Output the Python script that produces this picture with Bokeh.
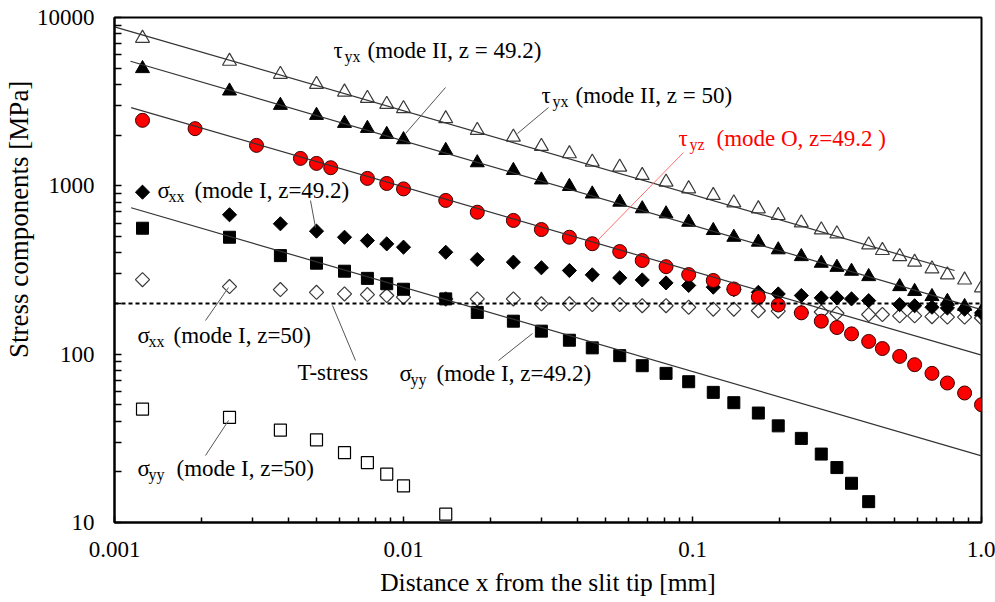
import numpy as np
from bokeh.plotting import figure
from bokeh.models import FixedTicker, Label, Arrow, Span, Title
from bokeh.embed import file_html
from bokeh.resources import INLINE

# ---------------- data ----------------
# tau_yx, mode II, z = 50 (open triangles)
X_TAU_Z50 = [0.00125, 0.0025, 0.00375, 0.005, 0.00625, 0.0075, 0.00875, 0.01,
             0.014, 0.018, 0.024, 0.03, 0.0375, 0.045, 0.056, 0.067, 0.081, 0.097,
             0.118, 0.139, 0.169, 0.198, 0.238, 0.279, 0.316,
             0.407, 0.454, 0.521, 0.587, 0.674, 0.762, 0.874, 1.0]
Y_TAU_Z50 = [7530, 5500, 4600, 4010, 3610, 3310, 3050, 2875,
             2506, 2136, 1948, 1716, 1552, 1384, 1292, 1153, 1052, 961,
             877, 793, 731, 667, 603, 548, 519,
             446, 413, 380, 352, 321, 296, 276, 248]

# tau_yx, mode II, z = 49.2 (filled triangles)
X_TAU_Z492 = [0.00125, 0.0025, 0.00375, 0.005, 0.00625, 0.0075, 0.00875, 0.01,
              0.014, 0.018, 0.024, 0.03, 0.0375, 0.045, 0.056, 0.067, 0.081, 0.097,
              0.118, 0.139, 0.169, 0.198, 0.238, 0.279, 0.316, 0.355, 0.407,
              0.521, 0.587, 0.674, 0.762, 0.874, 1.0]
Y_TAU_Z492 = [4973, 3660, 3008, 2623, 2351, 2195, 2022, 1880,
              1624, 1372, 1235, 1084, 992, 895, 800, 731, 682, 608,
              543, 495, 463, 417, 380, 347, 328, 311, 289,
              252, 236, 220, 206, 192, 179]

# tau_yz, mode O, z = 49.2 (red circles)
X_TAUYZ = [0.00125, 0.0019, 0.0031, 0.0044, 0.005, 0.0056, 0.0075, 0.00875, 0.01,
           0.014, 0.018, 0.024, 0.03, 0.0375, 0.045, 0.056, 0.067, 0.081, 0.097,
           0.118, 0.139, 0.169, 0.198, 0.238, 0.279, 0.316, 0.355, 0.407,
           0.454, 0.521, 0.587, 0.674, 0.762, 0.874, 1.0]
Y_TAUYZ = [2449, 2186, 1739, 1455, 1359, 1281, 1107, 1033, 959,
           819, 697, 623, 550, 495, 453, 407, 360, 331, 297,
           274, 244, 218, 196, 176, 157, 144, 132, 119,
           108, 97, 86.6, 76.9, 67.4, 58.8, 50.1]

# sigma_xx, mode I, z = 49.2 (filled diamonds)
X_SXX_Z492 = [0.00125, 0.0025, 0.00375, 0.005, 0.00625, 0.0075, 0.00875, 0.01,
              0.014, 0.018, 0.024, 0.03, 0.0375, 0.045, 0.056, 0.067, 0.081, 0.097,
              0.118, 0.139, 0.169, 0.198, 0.238, 0.279, 0.316, 0.355, 0.407,
              0.521, 0.587, 0.674, 0.762, 0.874, 1.0]
Y_SXX_Z492 = [917, 673, 595, 538, 495, 473, 452, 432,
              403, 365, 352, 326, 314, 296, 284, 276, 265, 256,
              250, 242, 233, 228, 223, 216, 216, 213, 208,
              197, 194, 190, 188, 185, 176]

# sigma_xx, mode I, z = 50 (open diamonds)
X_SXX_Z50 = [0.00125, 0.0025, 0.00375, 0.005, 0.00625, 0.0075, 0.00875, 0.01,
             0.014, 0.018, 0.024, 0.03, 0.0375, 0.045, 0.056, 0.067, 0.081, 0.097,
             0.118, 0.139, 0.169, 0.198, 0.238, 0.279, 0.316,
             0.407, 0.454, 0.521, 0.587, 0.674, 0.762, 0.874, 1.0]
Y_SXX_Z50 = [277, 252, 242, 233, 228, 226, 223, 218,
             213, 213, 213, 199, 199, 197, 197, 194, 194, 190,
             185, 185, 181, 180, 177, 178, 175,
             172, 172, 169, 169, 167, 166, 166, 164]

# sigma_yy, mode I, z = 49.2 (filled squares)
X_SYY_Z492 = [0.00125, 0.0025, 0.00375, 0.005, 0.00625, 0.0075, 0.00875, 0.01,
              0.014, 0.018, 0.024, 0.03, 0.0375, 0.045, 0.056, 0.067, 0.081, 0.097,
              0.118, 0.139, 0.169, 0.198, 0.238, 0.279, 0.316, 0.355, 0.407]
Y_SYY_Z492 = [560, 495, 385, 347, 311, 282, 262, 243,
              213, 177, 157, 137, 121, 109, 98, 85.4, 76.9, 68.6,
              59.3, 51.5, 44.7, 37.5, 31.6, 25.5, 21.2, 17.1, 13.3]

# sigma_yy, mode I, z = 50 (open squares)
X_SYY_Z50 = [0.00125, 0.0025, 0.00375, 0.005, 0.00625, 0.0075, 0.00875, 0.01, 0.014]
Y_SYY_Z50 = [47.2, 42.1, 35.4, 31.0, 26.0, 22.7, 19.4, 16.5, 11.2]

# fitted K/sqrt(x) lines (end points)
FIT_X0 = [0.001, 0.001136, 0.001142, 0.001142]
FIT_Y0 = [8790, 5496, 2914, 741]
FIT_X1 = [0.807, 1.0, 1.0, 1.0]
FIT_Y1 = [314, 184, 98.6, 24.9]

T_STRESS = 200.0

X_RANGE = (0.001, 1.0)
Y_RANGE = (10, 10000)
X_TICKS = [0.001, 0.01, 0.1, 1.0]
X_TICK_LABELS = ["0.001", "0.01", "0.1", "1.0"]
Y_TICKS = [10, 100, 1000, 10000]
Y_TICK_LABELS = ["10", "100", "1000", "10000"]

X_TITLE = "Distance x from the slit tip [mm]"
Y_TITLE = "Stress components [MPa]"

# ---------------- figure ----------------
FONT = "Liberation Serif"
FRAME_L, FRAME_B = 114, 522

p = figure(width=995, height=602, x_axis_type="log", y_axis_type="log",
           x_range=X_RANGE, y_range=Y_RANGE, output_backend="svg",
           toolbar_location=None, min_border_left=FRAME_L, min_border_right=14,
           min_border_top=17, min_border_bottom=602 - FRAME_B)
p.xgrid.visible = False
p.ygrid.visible = False
p.outline_line_color = "black"
p.outline_line_width = 2
p.outline_line_alpha = 1.0
p.background_fill_color = "white"
p.border_fill_color = "white"

def minor(ticks):
    out = []
    for a, b in zip(ticks[:-1], ticks[1:]):
        out += [a * k for k in range(2, 10)]
    return out

p.xaxis.ticker = FixedTicker(ticks=X_TICKS, minor_ticks=minor(X_TICKS))
p.yaxis.ticker = FixedTicker(ticks=Y_TICKS, minor_ticks=minor(Y_TICKS))
p.xaxis.major_label_overrides = {t: l for t, l in zip(X_TICKS, X_TICK_LABELS)}
p.yaxis.major_label_overrides = {t: l for t, l in zip(Y_TICKS, Y_TICK_LABELS)}

for ax in (p.xaxis, p.yaxis):
    ax.axis_line_color = "black"
    ax.axis_line_width = 2
    ax.major_tick_out = 0
    ax.minor_tick_out = 0
    ax.major_tick_line_color = "black"
    ax.minor_tick_line_color = "black"
    ax.major_tick_line_width = 1.5
    ax.minor_tick_line_width = 1.5
    ax.major_label_text_font = FONT
    ax.major_label_text_font_size = "23px"
    ax.major_label_text_color = "black"
    ax.axis_label_text_font = FONT
    ax.axis_label_text_font_size = "25.5px"
    ax.axis_label_text_font_style = "normal"
    ax.axis_label_text_color = "black"

p.xaxis.major_tick_in = 6
p.xaxis.minor_tick_in = 5
p.yaxis.major_tick_in = 7
p.yaxis.minor_tick_in = 7
p.xaxis.major_label_standoff = 19
p.yaxis.major_label_standoff = 20
p.xaxis.axis_label = X_TITLE
p.xaxis.axis_label_standoff = 8

# y-axis title as a side title; the title sits above the frame centre in the
# reference, so it is padded at its start with no-break spaces
p.add_layout(Title(text="\u00a0" * 15 + Y_TITLE, align="center",
                   text_font=FONT, text_font_size="27px",
                   text_font_style="normal", text_color="black",
                   standoff=0), "left")

# ---------------- markers ----------------
GRAY = "#3a3a3a"
p.scatter(X_SXX_Z50, Y_SXX_Z50, marker="square", angle=np.pi / 4, size=10,
          fill_color=None, line_color=GRAY, line_width=1.2)
p.scatter(X_SXX_Z492, Y_SXX_Z492, marker="square", angle=np.pi / 4, size=10,
          fill_color="black", line_color="black")
p.scatter(X_TAU_Z50, Y_TAU_Z50, marker="triangle", size=14,
          fill_color=None, line_color=GRAY, line_width=1.2)
p.scatter(X_TAU_Z492, Y_TAU_Z492, marker="triangle", size=14,
          fill_color="black", line_color="black")
p.scatter(X_SYY_Z50, Y_SYY_Z50, marker="square", size=12,
          fill_color=None, line_color="black", line_width=1.2)
p.scatter(X_SYY_Z492, Y_SYY_Z492, marker="square", size=12,
          fill_color="black", line_color="black")
p.scatter(X_TAUYZ, Y_TAUYZ, marker="circle", size=14,
          fill_color="#ff0000", line_color="#3a0000", line_width=1)

# fitted lines and T-stress line
p.segment(FIT_X0, FIT_Y0, FIT_X1, FIT_Y1, line_color="#333333", line_width=1.2)
p.add_layout(Span(location=T_STRESS, dimension="width", line_color="black",
                  line_width=2, line_dash="4 3"))

# ---------------- annotations ----------------
def txt(px, py, s, size=23, color="black", align="left", angle=0.0):
    p.add_layout(Label(x=px - FRAME_L, y=FRAME_B - py, x_units="screen",
                       y_units="screen", text=s, text_font=FONT,
                       text_font_size=f"{size}px", text_color=color,
                       text_align=align, text_baseline="middle", angle=angle))

def lead(x0, y0, x1, y1, color="#555555"):
    p.add_layout(Arrow(end=None, x_start=x0 - FRAME_L, y_start=FRAME_B - y0,
                       x_end=x1 - FRAME_L, y_end=FRAME_B - y1,
                       start_units="screen", end_units="screen",
                       line_color=color, line_width=1))

RED = "#ff0000"
SUB = 16

def sym(px, py, greek, sub, rest, rest_x, color="black"):
    txt(px, py, greek, color=color)
    txt(px + 11, py + 6, sub, SUB, color=color)
    txt(rest_x, py, rest, color=color)

sym(333, 50, "τ", "yx", "(mode II, z = 49.2)", 367)
lead(445, 87, 405, 133)
sym(541, 95, "τ", "yx", "(mode II, z = 50)", 575)
lead(548, 107, 517, 133)
sym(678, 138, "τ", "yz", "(mode O, z=49.2 )", 716, color=RED)
lead(683, 152, 597, 240, color="#ff6f6f")
sym(157, 190, "σ", "xx", "(mode I, z=49.2)", 194)
lead(310, 200, 315, 227)
sym(137, 335, "σ", "xx", "(mode I, z=50)", 173)
lead(205, 320, 228, 287)
txt(297, 372, "T-stress")
lead(355, 360, 332, 305)
sym(399, 373, "σ", "yy", "(mode I, z=49.2)", 436)
lead(498, 360, 532, 333)
sym(137, 468, "σ", "yy", "(mode I, z=50)", 176)
lead(205, 455, 228, 420)

open("out.html", "w").write(file_html(p, INLINE))
